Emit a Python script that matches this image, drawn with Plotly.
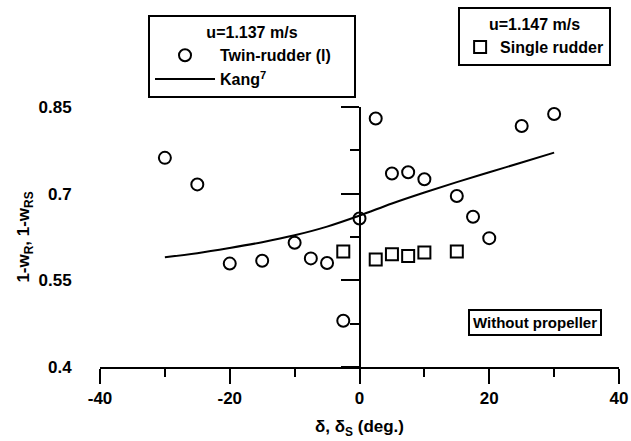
import plotly.graph_objects as go

# Twin-rudder measurements (u = 1.137 m/s)
twin_delta = [-30, -25, -20, -15, -10, -7.5, -5, -2.5, 0, 2.5, 5, 7.5, 10, 15, 17.5, 20, 25, 30]
twin_wake = [0.762, 0.716, 0.579, 0.584, 0.615, 0.588, 0.580, 0.480, 0.657, 0.830,
             0.735, 0.737, 0.725, 0.696, 0.660, 0.623, 0.817, 0.838]

# Single rudder measurements (u = 1.147 m/s)
single_delta = [-2.5, 2.5, 5, 7.5, 10, 15]
single_wake = [0.600, 0.586, 0.595, 0.592, 0.598, 0.600]

# Kang's estimate
kang_delta = [-30, -25, -20, -15, -10, -5, 0, 5, 10, 15, 20, 25, 30]
kang_wake = [0.590, 0.597, 0.606, 0.616, 0.628, 0.643, 0.662, 0.683, 0.702, 0.720, 0.737, 0.754, 0.771]

x_major = [-40, -20, 0, 20, 40]
x_labels = ["-40", "-20", "0", "20", "40"]
x_minor = [-30, -10, 10, 30]
y_major = [0.4, 0.55, 0.7, 0.85]
y_minor = [0.475, 0.625, 0.775]
y_labels = ["0.4", "0.55", "0.7", "0.85"]

FONT = "Liberation Sans, Arial, Helvetica, sans-serif"
BLACK = "#000000"
PAD = "&nbsp;" * 4  # keeps the first legend box as wide as its frame


def bold(size):
    return dict(family=FONT, size=size, color=BLACK, weight="bold")


fig = go.Figure()

fig.add_trace(go.Scatter(
    x=twin_delta, y=twin_wake, mode="markers", name="<b>Twin-rudder (l)</b>" + PAD,
    marker=dict(symbol="circle-open", size=12, color=BLACK, line=dict(width=2, color=BLACK)),
    legend="legend", cliponaxis=False,
))
fig.add_trace(go.Scatter(
    x=kang_delta, y=kang_wake, mode="lines", name="<b>Kang<sup>7</sup></b>",
    line=dict(color=BLACK, width=2, shape="spline"),
    legend="legend", yaxis="y2", cliponaxis=False,
))
fig.add_trace(go.Scatter(
    x=single_delta, y=single_wake, mode="markers", name="<b>Single rudder</b>",
    marker=dict(symbol="square-open", size=12, color=BLACK, line=dict(width=2, color=BLACK)),
    legend="legend2", cliponaxis=False,
))

fig.update_layout(
    width=631, height=441,
    margin=dict(l=100, r=12, t=107, b=74, autoexpand=False),
    paper_bgcolor="white", plot_bgcolor="white",
    font=bold(17),
    xaxis=dict(
        range=[-40, 40], showgrid=False, zeroline=False,
        showline=True, linewidth=2, linecolor=BLACK,
        tickmode="array", tickvals=x_major, ticktext=x_labels,
        ticks="outside", ticklen=15, tickwidth=2, tickcolor=BLACK,
        minor=dict(tickmode="array", tickvals=x_minor, ticks="outside", ticklen=8,
                   tickwidth=2, tickcolor=BLACK),
        tickfont=bold(17),
    ),
    # labels on the left edge of the plot, no line
    yaxis=dict(
        range=[0.4, 0.85], showgrid=False, zeroline=False, showline=False,
        tickmode="array", tickvals=y_major, ticktext=y_labels,
        ticks="outside", ticklen=24, tickcolor="rgba(0,0,0,0)",
        tickfont=bold(17),
        title=dict(text="<b>1-w<sub>R</sub>, 1-w<sub>RS</sub></b>", font=bold(17), standoff=4),
    ),
    # axis line drawn through delta = 0
    yaxis2=dict(
        range=[0.4, 0.85], overlaying="y", anchor="free", position=0.5,
        showgrid=False, zeroline=False, showline=True, linewidth=2, linecolor=BLACK,
        tickmode="array", tickvals=y_major, ticks="outside", ticklen=18, tickwidth=2,
        tickcolor=BLACK, showticklabels=False,
        minor=dict(tickmode="array", tickvals=y_minor, ticks="outside", ticklen=9,
                   tickwidth=2, tickcolor=BLACK),
    ),
    legend=dict(
        x=0.0925, y=1.352, xanchor="left", yanchor="top",
        bordercolor=BLACK, borderwidth=2, bgcolor="white",
        title=dict(text="<b>u=1.137 m/s</b>", side="top center", font=bold(16)),
        font=bold(16), itemwidth=60, tracegroupgap=0,
    ),
    legend2=dict(
        x=0.69, y=1.383, xanchor="left", yanchor="top",
        bordercolor=BLACK, borderwidth=2, bgcolor="white",
        title=dict(text="<b>u=1.147 m/s</b>", side="top center", font=bold(16)),
        font=bold(16), itemwidth=30,
    ),
    annotations=[
        dict(
            text="<b>δ, δ<sub>S</sub> (deg.)</b>", xref="paper", yref="paper",
            x=0.5, y=-0.235, xanchor="center", yanchor="middle", showarrow=False,
            font=bold(17),
        ),
        dict(
            text="<b>Without propeller</b>", xref="paper", yref="paper",
            x=0.838, y=0.172, xanchor="center", yanchor="middle", showarrow=False,
            font=bold(15), bordercolor=BLACK, borderwidth=2, borderpad=3,
            bgcolor="white",
        ),
    ],
)

fig.write_html("out.html")
